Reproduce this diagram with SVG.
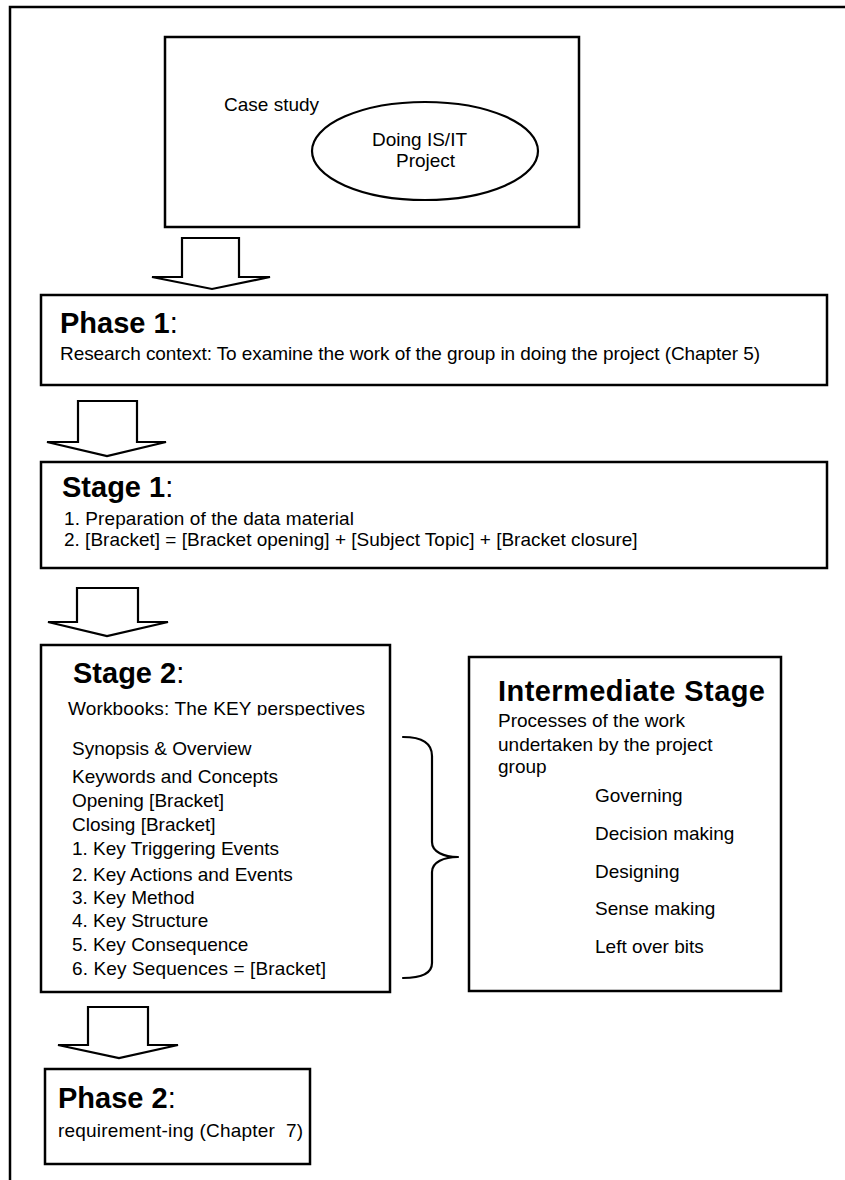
<svg xmlns="http://www.w3.org/2000/svg" width="845" height="1180" viewBox="0 0 845 1180">
  <defs>
    <style>
      .frame{fill:none;stroke:#000;stroke-width:2.5}
      .box{fill:#fff;stroke:#000;stroke-width:2.5}
      .oval{fill:#fff;stroke:#000;stroke-width:2.2}
      .arrow{fill:#fff;stroke:#000;stroke-width:2.2;stroke-linejoin:miter}
      .brace{fill:none;stroke:#000;stroke-width:2.2;stroke-linecap:round;stroke-linejoin:round}
      text{font-family:"Liberation Sans",Arial,sans-serif;fill:#000}
      .t{font-size:19px}
      .h{font-size:29px;font-weight:bold}
      .n{font-weight:normal}
    </style>
    <clipPath id="clipWorkbooks"><rect x="41" y="690" width="349" height="25.5"/></clipPath>
    <clipPath id="clipLeftover"><rect x="469" y="925" width="312" height="28"/></clipPath>
  </defs>

  <rect width="845" height="1180" fill="#fff"/>
  <!-- page frame -->
  <path class="frame" d="M10,1180 V7 H845"/>

  <!-- case study -->
  <g id="case-study">
    <rect class="box" x="165" y="37" width="414" height="190"/>
    <text class="t" x="224" y="111">Case study</text>
    <ellipse class="oval" cx="425" cy="151" rx="113" ry="49"/>
    <text class="t" x="372" y="146">Doing IS/IT</text>
    <text class="t" x="396" y="167">Project</text>
  </g>

  <!-- phase 1 -->
  <g id="phase1">
    <rect class="box" x="41" y="295" width="786" height="90"/>
    <text class="h" x="60" y="333">Phase 1<tspan class="n">:</tspan></text>
    <text class="t" x="60" y="360" textLength="700">Research context: To examine the work of the group in doing the project (Chapter 5)</text>
  </g>

  <!-- stage 1 -->
  <g id="stage1">
    <rect class="box" x="41" y="462" width="786" height="106"/>
    <text class="h" x="62" y="497">Stage 1<tspan class="n">:</tspan></text>
    <text class="t" x="64" y="525" textLength="290">1. Preparation of the data material</text>
    <text class="t" x="64" y="546">2. [Bracket] = [Bracket opening] + [Subject Topic] + [Bracket closure]</text>
  </g>

  <!-- stage 2 -->
  <g id="stage2">
    <rect class="box" x="41" y="645" width="349" height="347"/>
    <text class="h" x="73" y="683">Stage 2<tspan class="n">:</tspan></text>
    <text class="t" x="68" y="715" textLength="297" clip-path="url(#clipWorkbooks)">Workbooks: The KEY perspectives</text>
    <text class="t" x="72" y="755">Synopsis &amp; Overview</text>
    <text class="t" x="72" y="783">Keywords and Concepts</text>
    <text class="t" x="72" y="807">Opening [Bracket]</text>
    <text class="t" x="72" y="831">Closing [Bracket]</text>
    <text class="t" x="72" y="855">1. Key Triggering Events</text>
    <text class="t" x="72" y="881">2. Key Actions and Events</text>
    <text class="t" x="72" y="904">3. Key Method</text>
    <text class="t" x="72" y="927">4. Key Structure</text>
    <text class="t" x="72" y="951">5. Key Consequence</text>
    <text class="t" x="72" y="975" textLength="254">6. Key Sequences = [Bracket]</text>
  </g>

  <!-- intermediate stage -->
  <g id="intermediate">
    <rect class="box" x="469" y="657" width="312" height="334"/>
    <text class="h" x="498" y="701" textLength="267">Intermediate Stage</text>
    <text class="t" x="498" y="727">Processes of the work</text>
    <text class="t" x="498" y="751">undertaken by the project</text>
    <text class="t" x="498" y="773">group</text>
    <text class="t" x="595" y="802">Governing</text>
    <text class="t" x="595" y="840">Decision making</text>
    <text class="t" x="595" y="878">Designing</text>
    <text class="t" x="595" y="915">Sense making</text>
    <text class="t" x="595" y="953" clip-path="url(#clipLeftover)">Left over bits</text>
  </g>

  <!-- phase 2 -->
  <g id="phase2">
    <rect class="box" x="45" y="1069" width="265" height="95"/>
    <text class="h" x="58" y="1108">Phase 2<tspan class="n">:</tspan></text>
    <text class="t" x="58" y="1137" textLength="245" style="white-space:pre">requirement-ing (Chapter  7)</text>
  </g>

  <!-- block arrows and brace -->
  <g id="connectors">
    <polygon class="arrow" points="182,238 239,238 239,277 270,277 212,289 152,277 182,277"/>
    <polygon class="arrow" points="78,401 137,401 137,442 166,442 107,456 47,442 78,442"/>
    <polygon class="arrow" points="77,588 138,588 138,622 168,622 107,636 48,622 77,622"/>
    <polygon class="arrow" points="88,1007 148,1007 148,1045 178,1045 119,1058 58,1045 88,1045"/>
    <path class="brace" d="M403,737 C421,737 432,742 432,756 L432,842 C432,852 444,857 458,857 C444,857 432,862 432,872 L432,963 C432,974 421,978 403,978"/>
  </g>
</svg>
